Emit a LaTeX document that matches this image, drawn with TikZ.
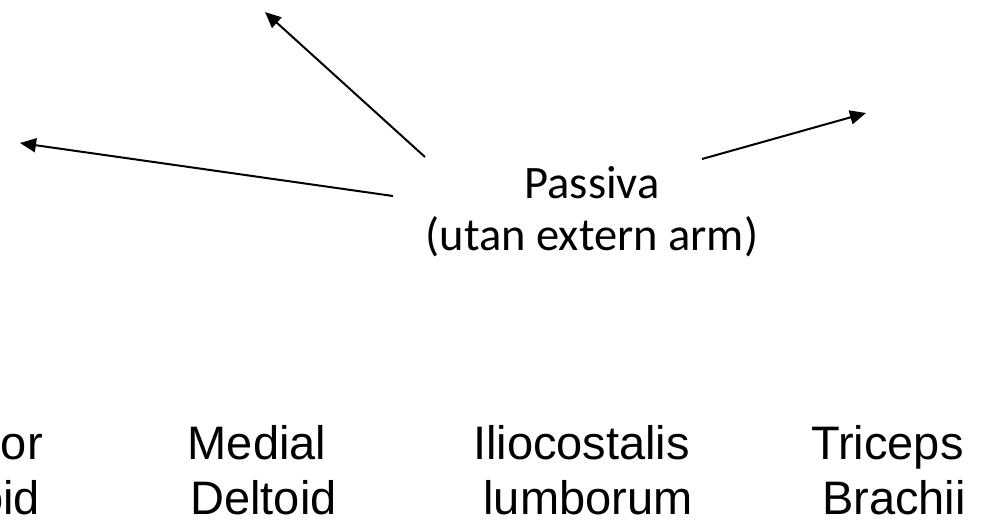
\documentclass[tikz,border=0pt]{standalone}
\usepackage{fontspec}
\usetikzlibrary{arrows.meta}
\newfontfamily\calibfont{Carlito}
\newfontfamily\arialfont{Liberation Sans}
\newcommand{\trsp}{\hspace*{0.278em}}
\begin{document}
\begin{tikzpicture}[x=1pt,y=-1pt,
  conn/.style={line width=2pt,-{Triangle[length=16pt,width=14pt]}},
  centerlbl/.style={font=\calibfont\fontsize{46.5}{52}\selectfont,align=center,inner sep=0pt,anchor=base},
  muscle/.style={font=\arialfont\fontsize{47}{55}\selectfont,align=center,inner sep=0pt,anchor=base}]
\useasboundingbox (0,0) rectangle (997,520);
\clip (0,0) rectangle (997,520);
% centre label
\node[centerlbl] (passiva) at (592,250) {Passiva\\(utan extern arm)};
% arrow ends
\coordinate (t1) at (425,157);
\coordinate (h1) at (265,12);
\coordinate (t2) at (393,196);
\coordinate (h2) at (20,143);
\coordinate (t3) at (702,159);
\coordinate (h3) at (866,113);
\draw[conn] (t1) -- (h1);
\draw[conn] (t2) -- (h2);
\draw[conn] (t3) -- (h3);
% muscle labels
\node[muscle] (ant) at (-33,514) {Anterior\trsp\\Deltoid};
\node[muscle] (med) at (263.5,514) {Medial\trsp\\Deltoid};
\node[muscle] (ilio) at (588,514) {Iliocostalis\trsp\\lumborum};
\node[muscle] (tri) at (894,514) {Triceps\trsp\\Brachii};
\end{tikzpicture}
\end{document}
